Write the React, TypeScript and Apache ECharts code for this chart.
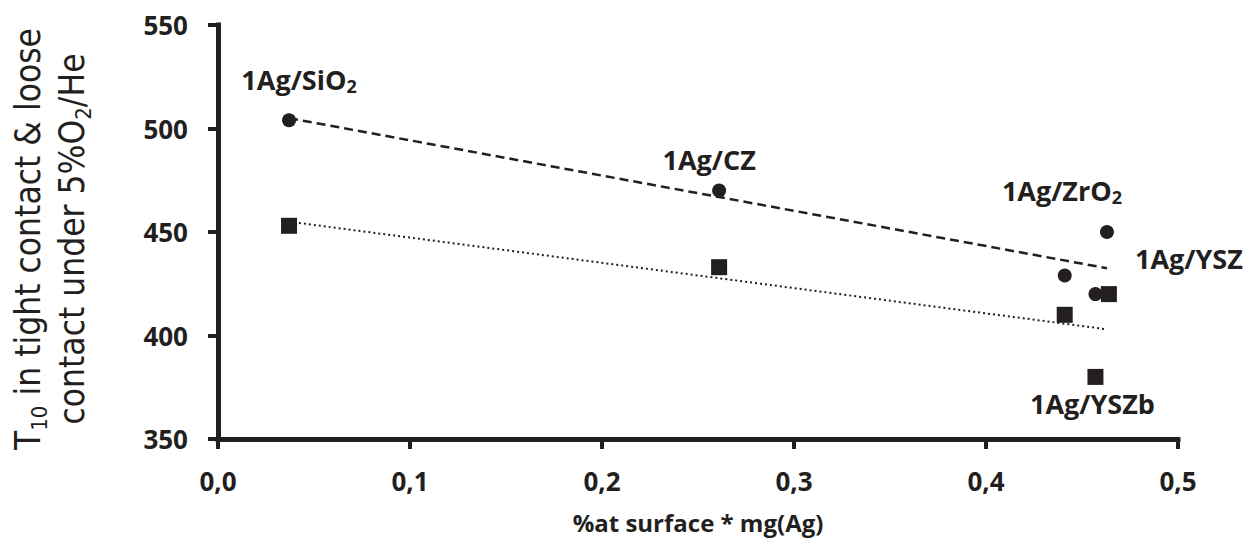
import React, { useEffect, useRef } from "react";
import * as echarts from "echarts";

const INK = "#231f20";
const WIDE = "'Open Sans'";

// circles (first series) and squares (second series)
const circleX = [0.037, 0.261, 0.463, 0.441, 0.457];
const circleY = [504, 470, 450, 429, 420];
const squareX = [0.037, 0.261, 0.441, 0.464, 0.457];
const squareY = [453, 433, 410, 420, 380];

// trend line end points
const dashedTrendX = [0.037, 0.463];
const dashedTrendY = [505, 432.5];
const dottedTrendX = [0.037, 0.463];
const dottedTrendY = [455, 403];

// sample labels (rich text), attached to points
const circleLabels = ["{a|1Ag/SiO}{s|2}", "{a|1Ag/CZ}", "{a|1Ag/ZrO}{s|2}", "", ""];
const squareLabels = ["", "", "", "{a|1Ag/YSZ}", "{a|1Ag/YSZb}"];
const circleLabelOffsets = [[10, -41], [-10, -31], [-45, -42], [0, 0], [0, 0]];
const squareLabelOffsets = [[0, 0], [0, 0], [0, 0], [80, -36], [-3, 27]];

const xTicks = [0, 0.1, 0.2, 0.3, 0.4, 0.5];
const yTitleLine1 = ["T", "10", " in tight contact & loose"];
const yTitleLine2 = ["contact under 5%O", "2", "/He"];

const labelRich = {
  a: { fontFamily: WIDE, fontWeight: "bold", fontSize: 27, color: INK, lineHeight: 32 },
  s: { fontFamily: WIDE, fontWeight: "bold", fontSize: 18, color: INK, lineHeight: 19, verticalAlign: "bottom" },
};

function pts(xs: number[], ys: number[], labels: string[], offsets: number[][]) {
  return xs.map((x, i) => {
    const item: any = { value: [x, ys[i]] };
    if (labels[i]) {
      item.label = {
        show: true,
        position: "inside",
        formatter: labels[i],
        offset: offsets[i],
        rich: labelRich,
      };
    }
    return item;
  });
}

function pickNarrowFont() {
  const ctx = document.createElement("canvas").getContext("2d");
  if (!ctx) return { family: "Lato", size: 34 };
  const sample = "abcdefghijklmnop WMW 123";
  ctx.font = "40px monospace";
  const base = ctx.measureText(sample).width;
  const candidates = ["Liberation Sans Narrow", "DejaVu Sans Condensed", "Lato"];
  let family = "Lato";
  for (const c of candidates) {
    ctx.font = `40px "${c}", monospace`;
    if (Math.abs(ctx.measureText(sample).width - base) > 0.5) {
      family = c;
      break;
    }
  }
  ctx.font = `100px "${family}"`;
  const w =
    ctx.measureText(yTitleLine1[0] + yTitleLine1[2]).width +
    0.62 * ctx.measureText(yTitleLine1[1]).width;
  const size = Math.min(42, Math.round((100 * 418) / w));
  return { family, size };
}

export default function App() {
  const ref = useRef<HTMLDivElement>(null);
  useEffect(() => {
    if (!ref.current) return;
    const chart = echarts.init(ref.current, undefined, { renderer: "svg" });
    const nf = pickNarrowFont();
    const fam = `"${nf.family}"`;
    chart.setOption({
      animation: false,
      backgroundColor: "#ffffff",
      grid: { left: 218, right: 70, top: 25, bottom: 103, containLabel: false, outerBoundsMode: "none" },
      xAxis: {
        type: "value",
        min: xTicks[0],
        max: xTicks[xTicks.length - 1],
        interval: 0.1,
        name: "%at surface * mg(Ag)",
        nameLocation: "middle",
        nameGap: 71,
        nameTextStyle: { fontFamily: WIDE, fontWeight: "bold", fontSize: 24, color: INK },
        axisLine: { show: true, lineStyle: { color: INK, width: 5, cap: "square" } },
        axisTick: { show: true, inside: false, length: 10, lineStyle: { color: INK, width: 4 } },
        axisLabel: {
          margin: 29,
          fontFamily: WIDE,
          fontWeight: "bold",
          fontSize: 26,
          color: INK,
          formatter: (v: number) => v.toFixed(1).replace(".", ","),
        },
        splitLine: { show: false },
      },
      yAxis: {
        type: "value",
        min: 350,
        max: 550,
        interval: 50,
        name:
          `{t|${yTitleLine1[0]}}{s|${yTitleLine1[1]}}{t|${yTitleLine1[2]}}\n` +
          `{t|${yTitleLine2[0]}}{s|${yTitleLine2[1]}}{t|${yTitleLine2[2]}}`,
        nameLocation: "middle",
        nameRotate: 90,
        nameGap: 124,
        nameTextStyle: {
          padding: [0, 14, 0, 0],
          rich: {
            t: { fontFamily: fam, fontSize: nf.size, color: INK, lineHeight: 44 },
            s: { fontFamily: fam, fontSize: Math.round(nf.size * 0.62), color: INK, lineHeight: 30, verticalAlign: "bottom" },
          },
        },
        axisLine: { show: true, lineStyle: { color: INK, width: 5, cap: "square" } },
        axisTick: { show: true, inside: false, length: 10, lineStyle: { color: INK, width: 4 } },
        axisLabel: { margin: 30, fontFamily: WIDE, fontWeight: "bold", fontSize: 26, color: INK },
        splitLine: { show: false },
      },
      series: [
        {
          type: "line",
          data: dashedTrendX.map((x, i) => [x, dashedTrendY[i]]),
          symbol: "none",
          lineStyle: { color: INK, width: 2.5, type: [9, 5] },
          z: 1,
        },
        {
          type: "line",
          data: dottedTrendX.map((x, i) => [x, dottedTrendY[i]]),
          symbol: "none",
          lineStyle: { color: INK, width: 2, type: [2, 3] },
          z: 1,
        },
        {
          type: "scatter",
          symbol: "circle",
          symbolSize: 14,
          itemStyle: { color: INK, opacity: 1 },
          label: { color: INK },
          data: pts(circleX, circleY, circleLabels, circleLabelOffsets),
          z: 3,
        },
        {
          type: "scatter",
          symbol: "rect",
          symbolSize: 16,
          itemStyle: { color: INK, opacity: 1 },
          label: { color: INK },
          data: pts(squareX, squareY, squareLabels, squareLabelOffsets),
          z: 4,
        },
      ],
    });
    return () => chart.dispose();
  }, []);
  return <div ref={ref} style={{ width: 1248, height: 542, position: "absolute", left: 0, top: 0 }} />;
}
